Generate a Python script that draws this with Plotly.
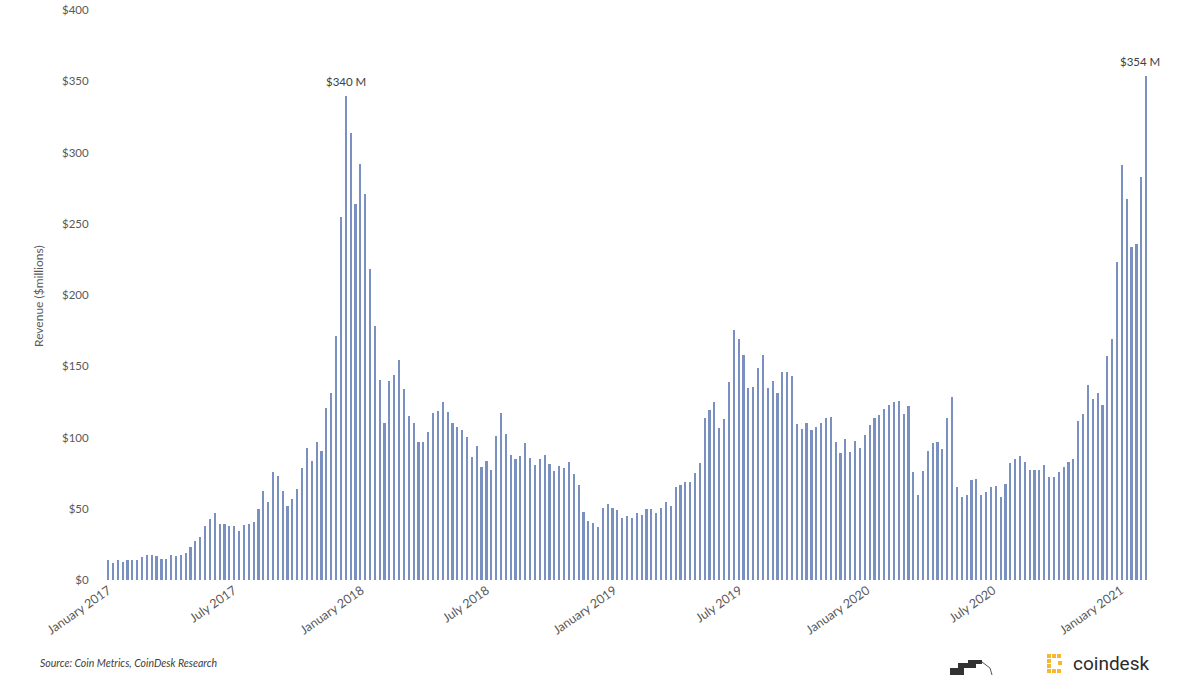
import pandas as pd
import plotly.graph_objects as go

# Weekly miner revenue ($ millions), weeks starting 2017-01-01
start_date = "2017-01-01"
revenue = [
    13.7, 11.8, 13.7, 12.5, 13.7, 13.7, 14.2, 16.0, 17.7, 17.2,
    16.5, 14.5, 14.5, 17.2, 16.5, 17.2, 19.1, 23.0, 27.3, 30.1,
    37.8, 43.0, 47.0, 39.0, 39.0, 37.8, 37.8, 34.3, 38.5, 39.0,
    41.0, 49.6, 62.4, 54.5, 75.8, 73.0, 62.4, 51.7, 57.0, 64.0,
    78.3, 92.7, 83.6, 96.5, 90.7, 120.4, 131.5, 170.9, 255.0, 340.0,
    313.4, 263.8, 291.6, 270.7, 218.4, 178.1, 140.3, 110.4, 139.6, 143.6,
    154.3, 134.1, 115.2, 110.4, 96.8, 96.8, 104.0, 117.0, 118.8, 125.0,
    118.0, 110.2, 107.4, 105.6, 100.4, 86.4, 93.8, 79.3, 83.5, 77.0,
    100.9, 117.3, 102.3, 88.0, 84.7, 86.8, 96.4, 85.6, 81.0, 84.7,
    88.0, 81.2, 76.5, 80.0, 78.9, 82.8, 74.2, 66.4, 47.7, 41.1,
    40.2, 37.1, 50.7, 53.3, 50.7, 49.3, 43.7, 44.9, 43.7, 47.0,
    45.3, 49.6, 49.6, 47.0, 50.7, 54.5, 51.7, 65.3, 67.0, 69.0,
    69.0, 75.3, 82.4, 114.0, 119.2, 125.0, 106.7, 113.3, 139.3, 175.2,
    168.8, 157.6, 134.9, 135.3, 148.5, 157.8, 134.9, 140.0, 130.9, 146.1,
    146.1, 143.3, 109.3, 106.0, 110.5, 105.1, 107.2, 110.0, 113.8, 114.5,
    96.9, 89.1, 99.2, 89.9, 97.4, 92.7, 102.1, 108.6, 113.8, 115.6,
    120.3, 122.9, 125.0, 125.5, 116.8, 122.2, 75.6, 59.9, 76.8, 90.8,
    96.0, 96.5, 92.0, 113.5, 128.5, 65.3, 58.2, 59.9, 70.0, 71.1,
    59.4, 61.7, 65.3, 65.9, 58.2, 67.1, 82.1, 84.7, 86.8, 82.8,
    77.5, 77.0, 77.0, 81.0, 72.3, 72.3, 75.8, 79.3, 82.8, 84.7,
    111.4, 116.7, 137.0, 127.3, 131.1, 123.0, 157.3, 169.1, 223.4, 291.0,
    267.5, 233.7, 235.5, 283.0, 354.0,
]
weeks = pd.date_range(start=start_date, periods=len(revenue), freq="7D")

tick_dates = ["2017-01-01", "2017-07-01", "2018-01-01", "2018-07-01", "2019-01-01",
              "2019-07-01", "2020-01-01", "2020-07-01", "2021-01-01"]
tick_labels = ["January 2017", "July 2017", "January 2018", "July 2018", "January 2019",
               "July 2019", "January 2020", "July 2020", "January 2021"]
y_ticks = [0, 50, 100, 150, 200, 250, 300, 350, 400]
y_tick_labels = ["$0", "$50", "$100", "$150", "$200", "$250", "$300", "$350", "$400"]

peak_labels = {49: "$340 M", 214: "$354 M"}

W, H = 1200, 675
L, R, T, B = 100, 46, 10, 95
pw, ph = W - L - R, H - T - B


def px(x):
    return (x - L) / pw


def py(y):
    return (H - B - y) / ph


font_family = "Lato, Open Sans, sans-serif"
tick_color = "#595959"
bar_color = "#7A90C0"

fig = go.Figure()
fig.add_trace(go.Bar(
    x=weeks, y=revenue,
    width=2.4 * 86400000,
    marker=dict(color=bar_color, line=dict(width=0)),
    hoverinfo="x+y",
))

annotations = []
for idx, txt in peak_labels.items():
    annotations.append(dict(
        x=weeks[idx], y=revenue[idx], xref="x", yref="y", text=txt,
        showarrow=False, yshift=14, xshift=(-6 if idx == len(revenue) - 1 else 0),
        font=dict(family=font_family, size=11.5, color="#404040"),
    ))

annotations.append(dict(
    x=px(38), y=py(296), xref="paper", yref="paper", text="Revenue ($millions)",
    textangle=-90, showarrow=False, xanchor="center", yanchor="middle",
    font=dict(family=font_family, size=12, color=tick_color),
))
annotations.append(dict(
    x=px(38), y=py(663), xref="paper", yref="paper",
    text="<i>Source: Coin Metrics, CoinDesk Research</i>",
    showarrow=False, xanchor="left", yanchor="middle",
    font=dict(family=font_family, size=10.5, color="#404040"),
))
annotations.append(dict(
    x=px(1071), y=py(663), xref="paper", yref="paper", text="coindesk",
    showarrow=False, xanchor="left", yanchor="middle",
    font=dict(family="Roboto, sans-serif", size=19, color="#2b2b2b"),
))

shapes = []
# coindesk icon (yellow dotted bracket)
for (x0, y0) in [(1047, 654), (1052, 654), (1057, 654), (1047, 659), (1047, 664),
                 (1047, 669), (1052, 669), (1057, 669), (1058, 661)]:
    shapes.append(dict(type="rect", xref="paper", yref="paper",
                       x0=px(x0), x1=px(x0 + 4), y0=py(y0 + 4), y1=py(y0),
                       fillcolor="#F5B82E", line=dict(width=0)))
# partial dark logo at bottom
for (x0, y0, x1, y1) in [(950, 668, 964, 675), (958, 663, 972, 668), (968, 660, 976, 668),
                         (976, 660, 982, 664)]:
    shapes.append(dict(type="rect", xref="paper", yref="paper",
                       x0=px(x0), x1=px(x1), y0=py(y1), y1=py(y0),
                       fillcolor="#333333", line=dict(width=0)))
shapes.append(dict(type="path", xref="paper", yref="paper",
                   path=f"M {px(982)} {py(662)} L {px(990)} {py(668)} L {px(992)} {py(675)}",
                   line=dict(color="#555555", width=1)))

fig.update_layout(
    width=W, height=H,
    margin=dict(l=L, r=R, t=T, b=B, autoexpand=False),
    paper_bgcolor="white", plot_bgcolor="white",
    showlegend=False,
    bargap=0,
    xaxis=dict(
        type="date", automargin=False,
        range=["2016-12-20", "2021-02-18"],
        tickmode="array", tickvals=tick_dates, ticktext=tick_labels,
        tickangle=-35, showgrid=False, zeroline=False, showline=False,
        ticks="", tickfont=dict(family=font_family, size=12.5, color=tick_color),
    ),
    yaxis=dict(
        automargin=False,
        range=[0, 400], tickmode="array", tickvals=y_ticks, ticktext=y_tick_labels,
        showgrid=False, zeroline=False, showline=False,
        ticks="outside", ticklen=8, tickcolor="rgba(0,0,0,0)",
        tickfont=dict(family=font_family, size=11.5, color=tick_color),
    ),
    annotations=annotations,
    shapes=shapes,
)

fig.write_html(
    "out.html",
    config={"displayModeBar": False},
    post_script="document.body.style.margin='0px';document.body.style.overflow='hidden';",
)
